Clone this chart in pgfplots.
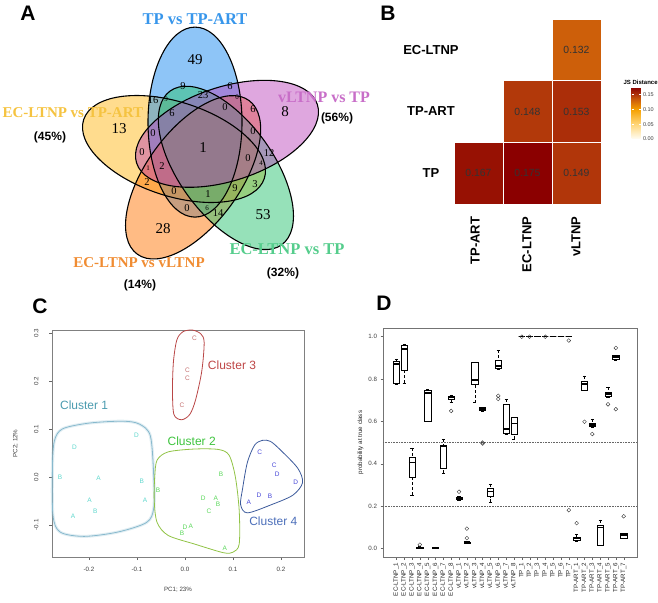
\documentclass[border=0pt]{standalone}
\usepackage{pgfplots}
\pgfplotsset{compat=1.18}
\usepgfplotslibrary{statistics,patchplots}
\usepackage{fontspec}
\setmainfont{Liberation Sans}
\newfontfamily\tnr{Liberation Serif}
\newcommand\fs[1]{\fontsize{#1}{#1}\selectfont}

% venn fills and labels
\definecolor{vblue}{RGB}{30,140,240}
\definecolor{vpink}{RGB}{185,60,185}
\definecolor{vgreen}{RGB}{45,195,115}
\definecolor{vorange}{RGB}{255,120,10}
\definecolor{vyellow}{RGB}{255,185,30}
\definecolor{lblue}{RGB}{55,150,235}
\definecolor{lpink}{RGB}{200,110,200}
\definecolor{lgreen}{RGB}{85,205,140}
\definecolor{lorange}{RGB}{240,140,50}
\definecolor{lyellow}{RGB}{245,195,65}
% clusters
\definecolor{c1pt}{RGB}{95,215,205}
\definecolor{c1ln}{RGB}{135,185,205}
\definecolor{c1lb}{RGB}{75,155,175}
\definecolor{c2pt}{RGB}{90,215,90}
\definecolor{c2ln}{RGB}{145,195,70}
\definecolor{c2lb}{RGB}{60,195,60}
\definecolor{c3pt}{RGB}{195,110,110}
\definecolor{c3ln}{RGB}{185,70,70}
\definecolor{c3lb}{RGB}{190,70,70}
\definecolor{c4pt}{RGB}{70,70,215}
\definecolor{c4ln}{RGB}{60,90,155}
\definecolor{c4lb}{RGB}{75,110,185}

\pgfplotsset{
  bx/.style={black, line width=0.45pt, mark=o, mark size=1.9pt,
    mark options={solid, line width=0.4pt, black!80},
    boxplot/draw direction=y,
    boxplot/box extend=0.8,
    boxplot/whisker extend=0.4,
    boxplot/every box/.style={draw=black, fill=white, line width=0.45pt},
    boxplot/every median/.style={line width=1.6pt},
    boxplot/draw/lower whisker/.code={
      \draw[densely dashed, line width=0.4pt] (boxplot box cs:\pgfplotsboxplotvalue{lower whisker},0.5) -- (boxplot box cs:\pgfplotsboxplotvalue{lower quartile},0.5);
      \draw[line width=0.4pt] (boxplot whisker cs:\pgfplotsboxplotvalue{lower whisker},0) -- (boxplot whisker cs:\pgfplotsboxplotvalue{lower whisker},1);
    },
    boxplot/draw/upper whisker/.code={
      \draw[densely dashed, line width=0.4pt] (boxplot box cs:\pgfplotsboxplotvalue{upper whisker},0.5) -- (boxplot box cs:\pgfplotsboxplotvalue{upper quartile},0.5);
      \draw[line width=0.4pt] (boxplot whisker cs:\pgfplotsboxplotvalue{upper whisker},0) -- (boxplot whisker cs:\pgfplotsboxplotvalue{upper whisker},1);
    },
  },
}
\tikzset{
  vbig/.style={font=\tnr\fs{15}},
  vmid/.style={font=\tnr\fs{10.5}},
  vsml/.style={font=\tnr\fs{7}},
}

\begin{document}
\begin{tikzpicture}
\path[use as bounding box] (0pt,0pt) rectangle (658pt,-602pt);

% ---------- A: venn ----------
\begin{axis}[at={(0pt,0pt)}, anchor=north west, scale only axis,
  width=330pt, height=300pt, xmin=0, xmax=330, ymin=0, ymax=300,
  y dir=reverse, hide axis, clip=false]
\fill[vyellow, fill opacity=0.5, rotate around={162:(axis cs:174,149)}] (axis cs:174,149) ellipse [x radius=95pt, y radius=47pt];
\fill[vblue, fill opacity=0.5, rotate around={90:(axis cs:195,122.1)}] (axis cs:195,122.1) ellipse [x radius=95pt, y radius=47pt];
\fill[vorange, fill opacity=0.5, rotate around={-126:(axis cs:193.1,177.3)}] (axis cs:193.1,177.3) ellipse [x radius=95pt, y radius=47pt];
\fill[vgreen, fill opacity=0.5, rotate around={-54:(axis cs:225.9,167.9)}] (axis cs:225.9,167.9) ellipse [x radius=95pt, y radius=47pt];
\fill[vpink, fill opacity=0.45, rotate around={18:(axis cs:227,133.8)}] (axis cs:227,133.8) ellipse [x radius=95pt, y radius=47pt];
\draw[line width=1.1pt, rotate around={90:(axis cs:195,122.1)}] (axis cs:195,122.1) ellipse [x radius=95pt, y radius=47pt];
\draw[line width=1.1pt, rotate around={18:(axis cs:227,133.8)}] (axis cs:227,133.8) ellipse [x radius=95pt, y radius=47pt];
\draw[line width=1.1pt, rotate around={-54:(axis cs:225.9,167.9)}] (axis cs:225.9,167.9) ellipse [x radius=95pt, y radius=47pt];
\draw[line width=1.1pt, rotate around={-126:(axis cs:193.1,177.3)}] (axis cs:193.1,177.3) ellipse [x radius=95pt, y radius=47pt];
\draw[line width=1.1pt, rotate around={162:(axis cs:174,149)}] (axis cs:174,149) ellipse [x radius=95pt, y radius=47pt];

\node[vbig] at (axis cs:195,60) {49};
\node[vbig] at (axis cs:285,112) {8};
\node[vbig] at (axis cs:119,129) {13};
\node[vbig] at (axis cs:203,148) {1};
\node[vbig] at (axis cs:263,215) {53};
\node[vbig] at (axis cs:163,229) {28};
\node[vmid] at (axis cs:183,86) {9};
\node[vmid] at (axis cs:230,86) {6};
\node[vmid] at (axis cs:203,95) {23};
\node[vmid] at (axis cs:153,100) {16};
\node[vmid] at (axis cs:172,113) {6};
\node[vmid] at (axis cs:225,107) {0};
\node[vmid] at (axis cs:253,109) {6};
\node[vmid] at (axis cs:153,133) {0};
\node[vmid] at (axis cs:253,131) {0};
\node[vmid] at (axis cs:142,152) {0};
\node[vmid] at (axis cs:269,153) {12};
\node[vmid] at (axis cs:248,158) {0};
\node[vmid] at (axis cs:162,166) {2};
\node[vmid] at (axis cs:147,182) {2};
\node[vmid] at (axis cs:255,184) {3};
\node[vmid] at (axis cs:174,191) {0};
\node[vmid] at (axis cs:208,194) {1};
\node[vmid] at (axis cs:235,188) {9};
\node[vmid] at (axis cs:187,208) {0};
\node[vmid] at (axis cs:218,213) {14};
\node[vsml] at (axis cs:166,99) {9};
\node[vsml] at (axis cs:237,97) {0};
\node[vsml] at (axis cs:261,163) {4};
\node[vsml] at (axis cs:148,168) {1};
\node[vsml] at (axis cs:207,208) {6};

\node[font=\tnr\bfseries\fs{16.5}, text=lblue] at (axis cs:195,19) {TP vs TP-ART};
\node[font=\tnr\bfseries\fs{16}, text=lpink] at (axis cs:324,97) {vLTNP vs TP};
\node[font=\tnr\bfseries\fs{15}, text=lyellow, anchor=west] at (axis cs:-1,113) {EC-LTNP vs TP-ART};
\node[font=\tnr\bfseries\fs{15}, text=lorange] at (axis cs:139,263) {EC-LTNP vs vLTNP};
\node[font=\tnr\bfseries\fs{16.5}, text=lgreen] at (axis cs:287,249) {EC-LTNP vs TP};
\node[font=\bfseries\fs{12}] at (axis cs:50,137) {(45\%)};
\node[font=\bfseries\fs{12}] at (axis cs:337,118) {(56\%)};
\node[font=\bfseries\fs{12}] at (axis cs:140,285) {(14\%)};
\node[font=\bfseries\fs{12}] at (axis cs:283,273) {(32\%)};
\end{axis}

% ---------- B: heatmap ----------
\begin{axis}[at={(454pt,-19pt)}, anchor=north west, scale only axis,
  width=147pt, height=185pt, xmin=0, xmax=3, ymin=0, ymax=3,
  axis line style={draw=none}, xtick=\empty, ytick=\empty, clip=false,
  colormap={js}{rgb255(0pt)=(255,253,245) rgb255(50pt)=(255,214,120) rgb255(100pt)=(245,160,0) rgb255(132pt)=(205,95,10) rgb255(150pt)=(175,52,10) rgb255(175pt)=(139,0,0)},
  point meta min=0, point meta max=0.175,
  colorbar,
  colorbar style={at={(parent axis.south east)}, anchor=south west,
    xshift=22pt, yshift=65pt, scale only axis, width=9pt, height=52pt,
    ytick={0,0.05,0.1,0.15}, yticklabels={0.00,0.05,0.10,0.15},
    yticklabel style={font=\fs{5.5}, text=black!75, xshift=-1pt},
    axis line style={draw=none}, major tick length=2pt,
    every tick/.style={white, line width=0.5pt}}]
\addplot[patch, patch type=rectangle, shader=faceted, faceted color=white,
  line width=0.7pt, point meta=explicit] table[meta=c] {
x y c
0 0 0.167
1 0 0.167
1 1 0.167
0 1 0.167
1 0 0.175
2 0 0.175
2 1 0.175
1 1 0.175
2 0 0.149
3 0 0.149
3 1 0.149
2 1 0.149
1 1 0.148
2 1 0.148
2 2 0.148
1 2 0.148
2 1 0.153
3 1 0.153
3 2 0.153
2 2 0.153
2 2 0.132
3 2 0.132
3 3 0.132
2 3 0.132
};
\node[font=\fs{10.4}, text=black!80] at (axis cs:0.5,0.5) {0.167};
\node[font=\fs{10.4}, text=black!80] at (axis cs:1.5,0.5) {0.175};
\node[font=\fs{10.4}, text=black!80] at (axis cs:2.5,0.5) {0.149};
\node[font=\fs{10.4}, text=black!80] at (axis cs:1.5,1.5) {0.148};
\node[font=\fs{10.4}, text=black!80] at (axis cs:2.5,1.5) {0.153};
\node[font=\fs{10.4}, text=black!80] at (axis cs:2.5,2.5) {0.132};
\node[font=\bfseries\fs{13}] at (axis cs:-0.47,0.5) {TP};
\node[font=\bfseries\fs{13}] at (axis cs:-0.47,1.5) {TP-ART};
\node[font=\bfseries\fs{13}] at (axis cs:-0.47,2.5) {EC-LTNP};
\node[font=\bfseries\fs{13}, rotate=90, anchor=east] at (axis cs:0.43,-0.15) {TP-ART};
\node[font=\bfseries\fs{13}, rotate=90, anchor=east] at (axis cs:1.49,-0.15) {EC-LTNP};
\node[font=\bfseries\fs{13}, rotate=90, anchor=east] at (axis cs:2.49,-0.15) {vLTNP};
\node[font=\bfseries\fs{6}, anchor=west] at (axis cs:3.39,1.98) {JS Distance};
\end{axis}

% ---------- C: PCA ----------
\begin{axis}[at={(52pt,-330pt)}, anchor=north west, scale only axis,
  width=252pt, height=227pt,
  xmin=-0.277, xmax=0.248, ymin=-0.167, ymax=0.306,
  axis line style={black!50}, tick style={black!60}, tick align=outside,
  tick pos=left, major tick length=3pt,
  xtick={-0.2,-0.1,0,0.1,0.2}, xticklabels={-0.2,-0.1,0.0,0.1,0.2},
  ytick={-0.1,0,0.1,0.2,0.3}, yticklabels={-0.1,0.0,0.1,0.2,0.3},
  ticklabel style={font=\fs{6.2}, text=black!75},
  xticklabel style={yshift=-4pt},
  yticklabel style={rotate=90, anchor=south, yshift=7pt},
  xlabel={PC1; 23\%}, ylabel={PC2; 12\%},
  label style={font=\fs{6.2}, text=black!75},
  xlabel style={yshift=-8pt}, ylabel style={yshift=9pt},
  clip=false]
\addplot[smooth cycle, c1ln, line width=3pt, opacity=0.25] coordinates {
(-0.276,0.02) (-0.272,0.075) (-0.255,0.1) (-0.2,0.112) (-0.13,0.116) (-0.095,0.11) (-0.072,0.085) (-0.065,0.0) (-0.065,-0.065) (-0.08,-0.095) (-0.14,-0.115) (-0.21,-0.124) (-0.26,-0.115) (-0.275,-0.08)};
\addplot[smooth cycle, c1ln, line width=0.8pt] coordinates {
(-0.276,0.02) (-0.272,0.075) (-0.255,0.1) (-0.2,0.112) (-0.13,0.116) (-0.095,0.11) (-0.072,0.085) (-0.065,0.0) (-0.065,-0.065) (-0.08,-0.095) (-0.14,-0.115) (-0.21,-0.124) (-0.26,-0.115) (-0.275,-0.08)};
\addplot[smooth cycle, c2ln, line width=0.8pt] coordinates {
(-0.063,0.0) (-0.058,0.035) (-0.035,0.052) (0.02,0.058) (0.07,0.057) (0.092,0.045) (0.105,0.0) (0.113,-0.07) (0.113,-0.14) (0.1,-0.157) (0.08,-0.158) (0.02,-0.14) (-0.035,-0.122) (-0.058,-0.095) (-0.064,-0.05)};
\addplot[smooth cycle, c3ln, line width=0.8pt] coordinates {
(-0.017,0.285) (-0.005,0.302) (0.015,0.306) (0.033,0.298) (0.04,0.28) (0.035,0.22) (0.022,0.16) (0.01,0.13) (-0.007,0.119) (-0.023,0.13) (-0.026,0.18) (-0.024,0.24)};
\addplot[smooth cycle, c4ln, line width=0.8pt] coordinates {
(0.145,0.066) (0.161,0.076) (0.178,0.074) (0.2,0.055) (0.235,0.018) (0.245,-0.012) (0.225,-0.038) (0.18,-0.058) (0.13,-0.075) (0.116,-0.058) (0.12,-0.025) (0.13,0.03)};

\addplot[only marks, mark=none, point meta=explicit symbolic, nodes near coords,
  nodes near coords style={anchor=center, font=\fs{6.5}, text=c1pt}] table[meta=l] {
x y l
-0.101 0.087 D
-0.230 0.0625 D
-0.260 -0.001 B
-0.180 -0.003 A
-0.090 -0.009 B
-0.199 -0.049 A
-0.083 -0.049 A
-0.187 -0.072 B
-0.233 -0.082 A
};
\addplot[only marks, mark=none, point meta=explicit symbolic, nodes near coords,
  nodes near coords style={anchor=center, font=\fs{6.5}, text=c2pt}] table[meta=l] {
x y l
-0.056 -0.028 B
0.075 0.005 B
0.038 -0.044 D
0.064 -0.044 A
0.069 -0.058 B
0.050 -0.071 C
0.000 -0.104 D
0.012 -0.103 A
-0.006 -0.117 B
0.083 -0.148 A
};
\addplot[only marks, mark=none, point meta=explicit symbolic, nodes near coords,
  nodes near coords style={anchor=center, font=\fs{6.5}, text=c3pt}] table[meta=l] {
x y l
0.020 0.288 C
0.005 0.222 C
0.005 0.206 C
-0.006 0.149 C
};
\addplot[only marks, mark=none, point meta=explicit symbolic, nodes near coords,
  nodes near coords style={anchor=center, font=\fs{6.5}, text=c4pt}] table[meta=l] {
x y l
0.156 0.052 C
0.186 0.024 C
0.192 0.006 D
0.231 -0.011 D
0.154 -0.038 D
0.177 -0.041 B
0.133 -0.052 A
};
\node[font=\fs{12}, text=c1lb] at (axis cs:-0.21,0.149) {Cluster 1};
\node[font=\fs{12}, text=c2lb] at (axis cs:0.014,0.074) {Cluster 2};
\node[font=\fs{12}, text=c3lb] at (axis cs:0.098,0.233) {Cluster 3};
\node[font=\fs{12}, text=c4lb] at (axis cs:0.184,-0.092) {Cluster 4};
\end{axis}

% ---------- D: boxplots ----------
\begin{axis}[at={(383pt,-328pt)}, anchor=north west, scale only axis,
  width=254pt, height=229pt, xmin=-0.7, xmax=31.7, ymin=-0.04, ymax=1.04,
  axis line style={black!55}, tick style={black!60}, tick align=outside,
  tick pos=left, major tick length=2.5pt,
  xtick={1,...,30},
  xticklabels={EC-LTNP\_1,EC-LTNP\_2,EC-LTNP\_3,EC-LTNP\_4,EC-LTNP\_5,EC-LTNP\_6,EC-LTNP\_7,EC-LTNP\_8,
    vLTNP\_1,vLTNP\_2,vLTNP\_3,vLTNP\_4,vLTNP\_5,vLTNP\_6,vLTNP\_7,vLTNP\_8,
    TP\_1,TP\_2,TP\_3,TP\_4,TP\_5,TP\_6,TP\_7,
    TP-ART\_1,TP-ART\_2,TP-ART\_3,TP-ART\_4,TP-ART\_5,TP-ART\_6,TP-ART\_7},
  xticklabel style={rotate=90, anchor=east, font=\fs{6.2}, text=black!85},
  ytick={0,0.2,0.4,0.6,0.8,1}, yticklabels={0.0,0.2,0.4,0.6,0.8,1.0},
  yticklabel style={font=\fs{6.2}, text=black!75},
  ylabel={probability at true class},
  ylabel style={font=\fs{6.2}, text=black!85, yshift=-2pt}]
\addplot[densely dotted, black!60, line width=0.6pt] coordinates {(-0.7,0.5) (31.7,0.5)};
\addplot[densely dotted, black!60, line width=0.6pt] coordinates {(-0.7,0.2) (31.7,0.2)};

\addplot[bx, boxplot prepared={draw position=1, median=0.87, lower quartile=0.78, upper quartile=0.885, lower whisker=0.775, upper whisker=0.895}] coordinates {};
\addplot[bx, boxplot prepared={draw position=2, median=0.94, lower quartile=0.84, upper quartile=0.96, lower whisker=0.78, upper whisker=0.965}] coordinates {};
\addplot[bx, boxplot prepared={draw position=3, median=0.405, lower quartile=0.337, upper quartile=0.43, lower whisker=0.252, upper whisker=0.475}] coordinates {};
\addplot[bx, boxplot prepared={draw position=4, median=0.005, lower quartile=0.003, upper quartile=0.008, lower whisker=0.0, upper whisker=0.01}] table[row sep=\\, y index=0] {data\\ 0.018\\};
\addplot[bx, boxplot prepared={draw position=5, median=0.733, lower quartile=0.60, upper quartile=0.745, lower whisker=0.60, upper whisker=0.752}] coordinates {};
\addplot[bx, boxplot prepared={draw position=6, median=0.005, lower quartile=0.003, upper quartile=0.007, lower whisker=0.002, upper whisker=0.008}] coordinates {};
\addplot[bx, boxplot prepared={draw position=7, median=0.482, lower quartile=0.38, upper quartile=0.487, lower whisker=0.355, upper whisker=0.517}] coordinates {};
\addplot[bx, boxplot prepared={draw position=8, median=0.713, lower quartile=0.705, upper quartile=0.72, lower whisker=0.69, upper whisker=0.725}] table[row sep=\\, y index=0] {data\\ 0.649\\};
\addplot[bx, boxplot prepared={draw position=9, median=0.237, lower quartile=0.232, upper quartile=0.242, lower whisker=0.23, upper whisker=0.245}] table[row sep=\\, y index=0] {data\\ 0.268\\};
\addplot[bx, boxplot prepared={draw position=10, median=0.03, lower quartile=0.027, upper quartile=0.032, lower whisker=0.025, upper whisker=0.034}] table[row sep=\\, y index=0] {data\\ 0.049\\ 0.094\\};
\addplot[bx, boxplot prepared={draw position=11, median=0.795, lower quartile=0.775, upper quartile=0.878, lower whisker=0.688, upper whisker=0.88}] coordinates {};
\addplot[bx, boxplot prepared={draw position=12, median=0.658, lower quartile=0.65, upper quartile=0.665, lower whisker=0.648, upper whisker=0.667}] table[row sep=\\, y index=0] {data\\ 0.50\\ 0.495\\};
\addplot[bx, boxplot prepared={draw position=13, median=0.268, lower quartile=0.245, upper quartile=0.285, lower whisker=0.22, upper whisker=0.305}] coordinates {};
\addplot[bx, boxplot prepared={draw position=14, median=0.86, lower quartile=0.85, upper quartile=0.89, lower whisker=0.848, upper whisker=0.935}] table[row sep=\\, y index=0] {data\\ 0.72\\ 0.705\\};
\addplot[bx, boxplot prepared={draw position=15, median=0.565, lower quartile=0.545, upper quartile=0.68, lower whisker=0.54, upper whisker=0.705}] coordinates {};
\addplot[bx, boxplot prepared={draw position=16, median=0.59, lower quartile=0.538, upper quartile=0.62, lower whisker=0.515, upper whisker=0.62}] coordinates {};
\addplot[bx, boxplot prepared={draw position=17, median=1, lower quartile=1, upper quartile=1, lower whisker=1, upper whisker=1}] table[row sep=\\, y index=0] {data\\ 0.999\\};
\addplot[bx, boxplot prepared={draw position=18, median=1, lower quartile=1, upper quartile=1, lower whisker=1, upper whisker=1}] table[row sep=\\, y index=0] {data\\ 0.999\\};
\addplot[bx, boxplot prepared={draw position=19, median=1, lower quartile=1, upper quartile=1, lower whisker=1, upper whisker=1}] coordinates {};
\addplot[bx, boxplot prepared={draw position=20, median=1, lower quartile=1, upper quartile=1, lower whisker=1, upper whisker=1}] table[row sep=\\, y index=0] {data\\ 0.999\\};
\addplot[bx, boxplot prepared={draw position=21, median=1, lower quartile=1, upper quartile=1, lower whisker=1, upper whisker=1}] coordinates {};
\addplot[bx, boxplot prepared={draw position=22, median=1, lower quartile=1, upper quartile=1, lower whisker=1, upper whisker=1}] coordinates {};
\addplot[bx, boxplot prepared={draw position=23, median=1, lower quartile=1, upper quartile=1, lower whisker=1, upper whisker=1}] table[row sep=\\, y index=0] {data\\ 0.981\\ 0.181\\};
\addplot[bx, boxplot prepared={draw position=24, median=0.047, lower quartile=0.038, upper quartile=0.052, lower whisker=0.033, upper whisker=0.067}] table[row sep=\\, y index=0] {data\\ 0.12\\};
\addplot[bx, boxplot prepared={draw position=25, median=0.775, lower quartile=0.748, upper quartile=0.787, lower whisker=0.745, upper whisker=0.815}] table[row sep=\\, y index=0] {data\\ 0.598\\};
\addplot[bx, boxplot prepared={draw position=26, median=0.582, lower quartile=0.575, upper quartile=0.59, lower whisker=0.572, upper whisker=0.612}] table[row sep=\\, y index=0] {data\\ 0.54\\};
\addplot[bx, boxplot prepared={draw position=27, median=0.10, lower quartile=0.015, upper quartile=0.112, lower whisker=0.014, upper whisker=0.135}] coordinates {};
\addplot[bx, boxplot prepared={draw position=28, median=0.728, lower quartile=0.718, upper quartile=0.738, lower whisker=0.716, upper whisker=0.762}] table[row sep=\\, y index=0] {data\\ 0.68\\};
\addplot[bx, boxplot prepared={draw position=29, median=0.902, lower quartile=0.892, upper quartile=0.91, lower whisker=0.89, upper whisker=0.912}] table[row sep=\\, y index=0] {data\\ 0.946\\ 0.657\\};
\addplot[bx, boxplot prepared={draw position=30, median=0.063, lower quartile=0.05, upper quartile=0.07, lower whisker=0.047, upper whisker=0.072}] table[row sep=\\, y index=0] {data\\ 0.152\\};
\end{axis}

% panel letters
\node[font=\bfseries\fs{21}] at (28pt,-13pt) {A};
\node[font=\bfseries\fs{21}] at (388pt,-13pt) {B};
\node[font=\bfseries\fs{21}] at (40pt,-306pt) {C};
\node[font=\bfseries\fs{21}] at (384pt,-303pt) {D};
\end{tikzpicture}
\end{document}
